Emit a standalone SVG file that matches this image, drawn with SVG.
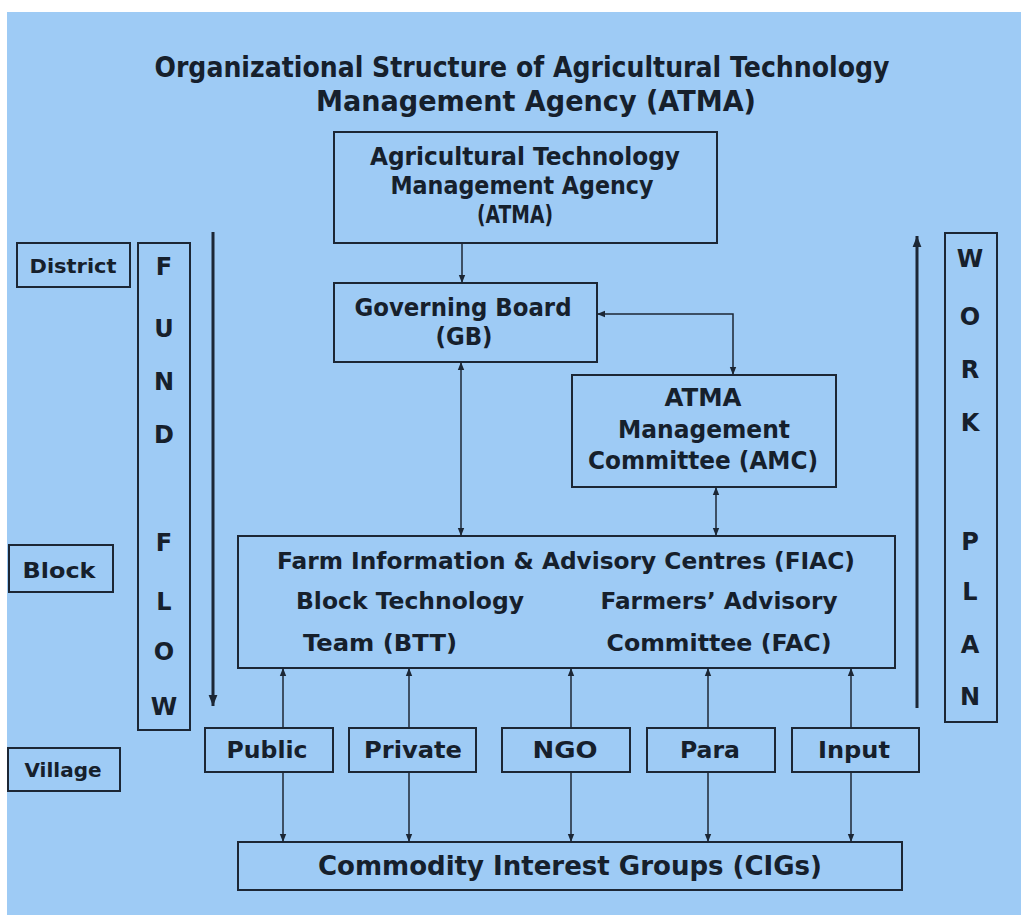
<svg xmlns="http://www.w3.org/2000/svg" width="1021" height="915" viewBox="0 0 1021 915">
  <style>
    .box { fill: none; stroke: #1c2735; stroke-width: 2; }
    .t { font-family: "DejaVu Sans", Verdana, sans-serif; font-weight: bold; fill: #16202c; text-anchor: middle; }
    .conn { fill: none; stroke: #1c2735; stroke-width: 1.5; }
    .flow { fill: none; stroke: #1c2735; stroke-width: 3; }
  </style>
  <defs>
    <marker id="ah" viewBox="0 0 10 10" refX="10" refY="5" markerWidth="8" markerHeight="8" markerUnits="userSpaceOnUse" orient="auto-start-reverse">
      <path d="M0,1 L10,5 L0,9 z" fill="#1c2735"/>
    </marker>
    <marker id="big" viewBox="0 0 10 10" refX="10" refY="5" markerWidth="11" markerHeight="11" markerUnits="userSpaceOnUse" orient="auto">
      <path d="M0,1 L10,5 L0,9 z" fill="#1c2735"/>
    </marker>
  </defs>

  <!-- page -->
  <rect x="0" y="0" width="1021" height="915" fill="#ffffff"/>
  <rect x="7" y="12" width="1014" height="903" fill="#9ecbf5"/>

  <!-- title -->
  <g id="title">
    <text class="t" x="522" y="77" font-size="28" textLength="735" lengthAdjust="spacingAndGlyphs">Organizational Structure of Agricultural Technology</text>
    <text class="t" x="536" y="111" font-size="28" textLength="440" lengthAdjust="spacingAndGlyphs">Management Agency (ATMA)</text>
  </g>

  <!-- level labels -->
  <g id="district">
    <rect class="box" x="17" y="243" width="113" height="44"/>
    <text class="t" x="73" y="273" font-size="19" textLength="87" lengthAdjust="spacingAndGlyphs">District</text>
  </g>
  <g id="block">
    <rect class="box" x="9" y="545" width="104" height="47"/>
    <text class="t" x="59" y="578" font-size="22" textLength="73" lengthAdjust="spacingAndGlyphs">Block</text>
  </g>
  <g id="village">
    <rect class="box" x="8" y="748" width="112" height="43"/>
    <text class="t" x="63" y="777" font-size="19" textLength="77" lengthAdjust="spacingAndGlyphs">Village</text>
  </g>

  <!-- vertical FUND FLOW banner -->
  <g id="fund-flow">
    <rect class="box" x="138" y="243" width="52" height="487"/>
    <text class="t" x="164" y="275" font-size="24">F</text>
    <text class="t" x="164" y="337" font-size="24">U</text>
    <text class="t" x="164" y="390" font-size="24">N</text>
    <text class="t" x="164" y="443" font-size="24">D</text>
    <text class="t" x="164" y="551" font-size="24">F</text>
    <text class="t" x="164" y="610" font-size="24">L</text>
    <text class="t" x="164" y="660" font-size="24">O</text>
    <text class="t" x="164" y="715" font-size="24">W</text>
  </g>

  <!-- vertical WORK PLAN banner -->
  <g id="work-plan">
    <rect class="box" x="945" y="233" width="52" height="489"/>
    <text class="t" x="970" y="267" font-size="24">W</text>
    <text class="t" x="970" y="325" font-size="24">O</text>
    <text class="t" x="970" y="378" font-size="24">R</text>
    <text class="t" x="970" y="431" font-size="24">K</text>
    <text class="t" x="970" y="550" font-size="24">P</text>
    <text class="t" x="970" y="600" font-size="24">L</text>
    <text class="t" x="970" y="653" font-size="24">A</text>
    <text class="t" x="970" y="705" font-size="24">N</text>
  </g>

  <!-- nodes -->
  <g id="atma">
    <rect class="box" x="334" y="132" width="383" height="111"/>
    <text class="t" x="525" y="165" font-size="24" textLength="310" lengthAdjust="spacingAndGlyphs">Agricultural Technology</text>
    <text class="t" x="522" y="194" font-size="24" textLength="263" lengthAdjust="spacingAndGlyphs">Management Agency</text>
    <text class="t" x="515" y="223" font-size="24" textLength="76" lengthAdjust="spacingAndGlyphs">(ATMA)</text>
  </g>
  <g id="gb">
    <rect class="box" x="334" y="283" width="263" height="79"/>
    <text class="t" x="463" y="316" font-size="24" textLength="217" lengthAdjust="spacingAndGlyphs">Governing Board</text>
    <text class="t" x="464" y="345" font-size="24" textLength="57" lengthAdjust="spacingAndGlyphs">(GB)</text>
  </g>
  <g id="amc">
    <rect class="box" x="572" y="375" width="264" height="112"/>
    <text class="t" x="703" y="406" font-size="24" textLength="77" lengthAdjust="spacingAndGlyphs">ATMA</text>
    <text class="t" x="704" y="438" font-size="24" textLength="172" lengthAdjust="spacingAndGlyphs">Management</text>
    <text class="t" x="703" y="469" font-size="24" textLength="230" lengthAdjust="spacingAndGlyphs">Committee (AMC)</text>
  </g>
  <g id="fiac">
    <rect class="box" x="238" y="536" width="657" height="132"/>
    <text class="t" x="566" y="569" font-size="23" textLength="578" lengthAdjust="spacingAndGlyphs">Farm Information &amp; Advisory Centres (FIAC)</text>
    <text class="t" x="410" y="609" font-size="23" textLength="228" lengthAdjust="spacingAndGlyphs">Block Technology</text>
    <text class="t" x="719" y="609" font-size="23" textLength="237" lengthAdjust="spacingAndGlyphs">Farmers’ Advisory</text>
    <text class="t" x="380" y="651" font-size="23" textLength="154" lengthAdjust="spacingAndGlyphs">Team (BTT)</text>
    <text class="t" x="719" y="651" font-size="23" textLength="225" lengthAdjust="spacingAndGlyphs">Committee (FAC)</text>
  </g>
  <g id="public">
    <rect class="box" x="205" y="728" width="128" height="44"/>
    <text class="t" x="267" y="758" font-size="23" textLength="81" lengthAdjust="spacingAndGlyphs">Public</text>
  </g>
  <g id="private">
    <rect class="box" x="349" y="728" width="127" height="44"/>
    <text class="t" x="413" y="758" font-size="23" textLength="98" lengthAdjust="spacingAndGlyphs">Private</text>
  </g>
  <g id="ngo">
    <rect class="box" x="502" y="728" width="128" height="44"/>
    <text class="t" x="565" y="758" font-size="23" textLength="65" lengthAdjust="spacingAndGlyphs">NGO</text>
  </g>
  <g id="para">
    <rect class="box" x="647" y="728" width="128" height="44"/>
    <text class="t" x="710" y="758" font-size="23" textLength="60" lengthAdjust="spacingAndGlyphs">Para</text>
  </g>
  <g id="input">
    <rect class="box" x="792" y="728" width="127" height="44"/>
    <text class="t" x="854" y="758" font-size="23" textLength="72" lengthAdjust="spacingAndGlyphs">Input</text>
  </g>
  <g id="cigs">
    <rect class="box" x="238" y="842" width="664" height="48"/>
    <text class="t" x="570" y="875" font-size="26" textLength="504" lengthAdjust="spacingAndGlyphs">Commodity Interest Groups (CIGs)</text>
  </g>

  <!-- connectors -->
  <g id="connectors">
    <path class="conn" d="M462,243 V283" marker-end="url(#ah)"/>
    <path class="conn" d="M597,314 H733 V375" marker-start="url(#ah)" marker-end="url(#ah)"/>
    <path class="conn" d="M461,362 V536" marker-start="url(#ah)" marker-end="url(#ah)"/>
    <path class="conn" d="M716,487 V536" marker-start="url(#ah)" marker-end="url(#ah)"/>

    <path class="conn" d="M283,728 V668" marker-end="url(#ah)"/>
    <path class="conn" d="M409,728 V668" marker-end="url(#ah)"/>
    <path class="conn" d="M571,728 V668" marker-end="url(#ah)"/>
    <path class="conn" d="M708,728 V668" marker-end="url(#ah)"/>
    <path class="conn" d="M851,728 V668" marker-end="url(#ah)"/>

    <path class="conn" d="M283,772 V842" marker-end="url(#ah)"/>
    <path class="conn" d="M409,772 V842" marker-end="url(#ah)"/>
    <path class="conn" d="M571,772 V842" marker-end="url(#ah)"/>
    <path class="conn" d="M708,772 V842" marker-end="url(#ah)"/>
    <path class="conn" d="M851,772 V842" marker-end="url(#ah)"/>

    <path class="flow" d="M213,232 V706" marker-end="url(#big)"/>
    <path class="flow" d="M917,708 V236" marker-end="url(#big)"/>
  </g>
</svg>
